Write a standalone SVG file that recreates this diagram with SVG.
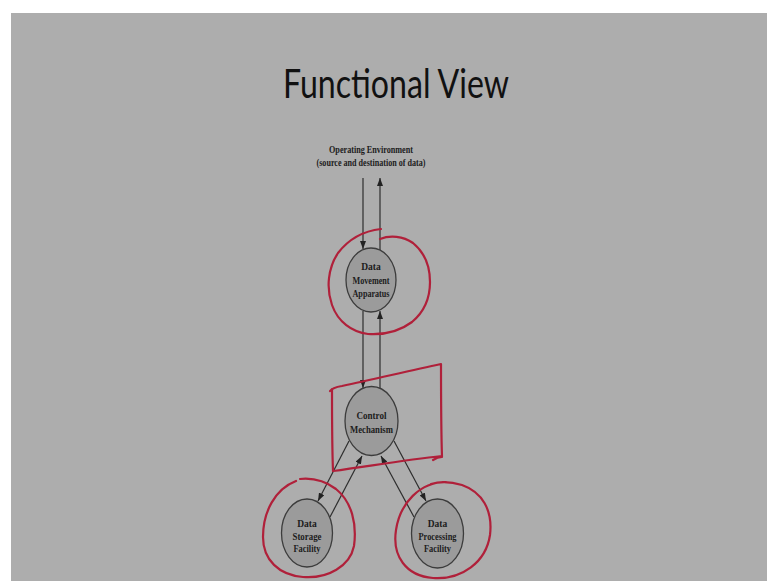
<svg xmlns="http://www.w3.org/2000/svg" width="767" height="581" viewBox="0 0 767 581">
  <defs>
    <style>
      .title { font-family: Lato, "Open Sans", "Liberation Sans", sans-serif; font-size: 40px; fill: #111; }
      .lbl { font-family: "Liberation Serif", "DejaVu Serif", serif; font-weight: bold; font-size: 9.5px; fill: #1c1c1c; text-anchor: middle; }
      .node { fill: #9b9b9b; stroke: #3c3c3c; stroke-width: 1.3; }
      .flow { stroke: #2e2e2e; stroke-width: 1.2; fill: none; marker-end: url(#head); }
      .ink { fill: none; stroke: #b0203a; stroke-width: 2.2; stroke-linecap: round; stroke-linejoin: round; }
    </style>
    <marker id="head" viewBox="0 0 8 6" refX="8" refY="3" markerWidth="8" markerHeight="6" markerUnits="userSpaceOnUse" orient="auto">
      <path d="M0,0 L8,3 L0,6 Z" fill="#222"/>
    </marker>
  </defs>

  <!-- page -->
  <rect x="0" y="0" width="767" height="581" fill="#ffffff"/>
  <rect x="11" y="13" width="756" height="568" fill="#adadad"/>

  <text class="title" x="283" y="98" textLength="226" lengthAdjust="spacingAndGlyphs">Functional View</text>

  <!-- environment label -->
  <g id="environment">
    <text class="lbl" x="371" y="153" textLength="84" lengthAdjust="spacingAndGlyphs">Operating Environment</text>
    <text class="lbl" x="371" y="166" textLength="109" lengthAdjust="spacingAndGlyphs">(source and destination of data)</text>
  </g>

  <!-- connectors -->
  <g id="connectors">
    <line class="flow" x1="363" y1="178" x2="363" y2="249"/>
    <line class="flow" x1="380" y1="250" x2="380" y2="178"/>
    <line class="flow" x1="363" y1="311" x2="363" y2="388"/>
    <line class="flow" x1="380" y1="388" x2="380" y2="311"/>
    <line class="flow" x1="349" y1="441" x2="318" y2="501"/>
    <line class="flow" x1="330" y1="517" x2="362" y2="456"/>
    <line class="flow" x1="394" y1="441" x2="426" y2="501"/>
    <line class="flow" x1="414" y1="517" x2="381" y2="456"/>
  </g>

  <g id="data-movement">
    <ellipse class="node" cx="371" cy="280" rx="25" ry="32"/>
    <text class="lbl" x="371" y="270">Data</text>
    <text class="lbl" x="371" y="284" textLength="37" lengthAdjust="spacingAndGlyphs">Movement</text>
    <text class="lbl" x="371" y="297" textLength="37" lengthAdjust="spacingAndGlyphs">Apparatus</text>
  </g>

  <g id="control">
    <ellipse class="node" cx="371.5" cy="421" rx="26.5" ry="34.5"/>
    <text class="lbl" x="371.5" y="419" textLength="30" lengthAdjust="spacingAndGlyphs">Control</text>
    <text class="lbl" x="371.5" y="432.5" textLength="43" lengthAdjust="spacingAndGlyphs">Mechanism</text>
  </g>

  <g id="data-storage">
    <ellipse class="node" cx="307" cy="533" rx="25.5" ry="34"/>
    <text class="lbl" x="307" y="526.5">Data</text>
    <text class="lbl" x="307" y="540" textLength="29" lengthAdjust="spacingAndGlyphs">Storage</text>
    <text class="lbl" x="307" y="552" textLength="27" lengthAdjust="spacingAndGlyphs">Facility</text>
  </g>

  <g id="data-processing">
    <ellipse class="node" cx="437.5" cy="533.5" rx="26" ry="34.5"/>
    <text class="lbl" x="437.5" y="526.5">Data</text>
    <text class="lbl" x="437.5" y="540" textLength="38" lengthAdjust="spacingAndGlyphs">Processing</text>
    <text class="lbl" x="437.5" y="552" textLength="27" lengthAdjust="spacingAndGlyphs">Facility</text>
  </g>

  <!-- hand-drawn highlights -->
  <g id="highlights">
    <path class="ink" d="M380,239 C390,235 403,236 413,243 C424,252 430,266 430,282 C430,298 424,312 412,322 C400,331 384,335 368,334 C352,332 338,322 332,305 C326,288 328,268 338,253 C348,240 363,231 381,229"/>
    <path class="ink" d="M330,391 C332,388 336,387 342,386 C375,379 408,371 441,364 C441,395 441,426 442,457 C438,457 436,458 433,460 M442,456 C405,460 370,466 333,471 C332,445 332,416 332,389"/>
    <path class="ink" d="M296,481 C275,489 263,512 263,537 C263,560 279,575 303,577 C328,579 350,566 354,546 C357,524 352,502 336,489 C324,480 310,478 300,479"/>
    <path class="ink" d="M446,482 C420,482 400,503 396,530 C392,556 406,576 433,578 C462,580 486,562 490,535 C493,510 482,492 462,485 C452,482 441,481 431,484"/>
  </g>
</svg>
